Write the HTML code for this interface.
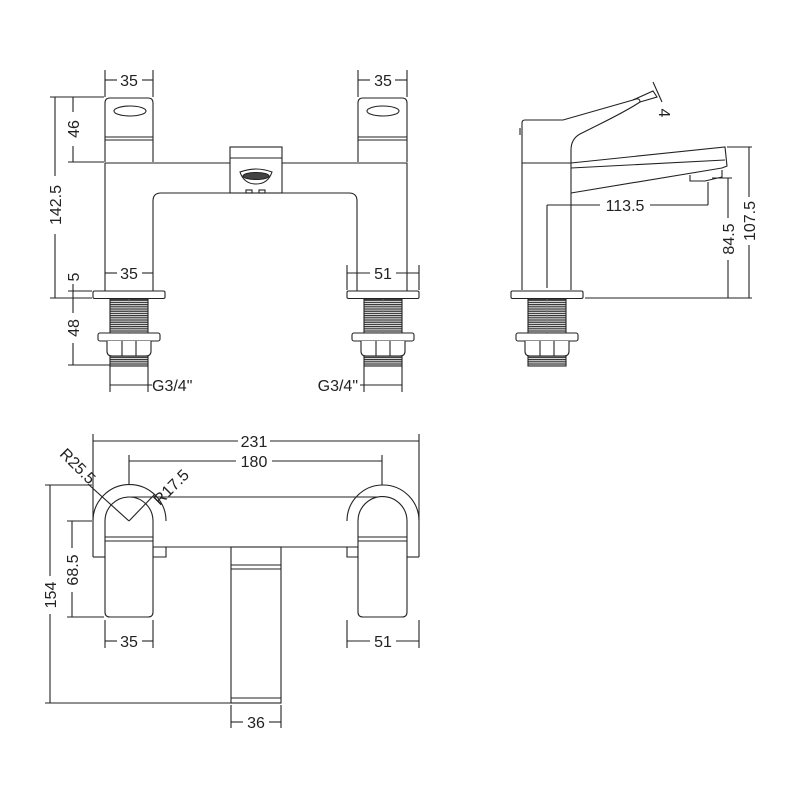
<!DOCTYPE html>
<html><head><meta charset="utf-8"><style>
html,body{margin:0;padding:0;background:#fff;}
svg{display:block;}
text{font-family:"Liberation Sans",sans-serif;font-size:16px;fill:#222;}
</style></head><body>
<svg width="800" height="800" viewBox="0 0 800 800" xmlns="http://www.w3.org/2000/svg">
<defs>
<pattern id="thr" width="4" height="2.2" patternUnits="userSpaceOnUse">
<rect width="4" height="2.2" fill="#fff"/><line x1="0" y1="1" x2="4" y2="1" stroke="#333" stroke-width="1.3"/>
</pattern>
<g id="fit" stroke="#222" stroke-width="1.1" fill="none">
<rect x="-36" y="291" width="72" height="7.5" rx="1.5" fill="#fff"/>
<rect x="-19" y="299" width="38" height="34" fill="url(#thr)"/>
<line x1="0" y1="299" x2="0" y2="333" stroke="#888" stroke-width="0.6"/>
<rect x="-31" y="333" width="62" height="8" rx="2" fill="#fff"/>
<path d="M-22 341 V351 Q-22 356 -17 356 H17 Q22 356 22 351 V341" fill="#fff"/>
<line x1="-7" y1="341" x2="-7" y2="356"/><line x1="7" y1="341" x2="7" y2="356"/>
<rect x="-19" y="356" width="38" height="10" fill="url(#thr)"/>
</g>
</defs>
<g stroke="#222" stroke-width="1.1" fill="none">
<!-- FRONT VIEW -->
<path d="M105 162 V103 Q105 98 110 98 H148 Q153 98 153 103 V162"/>
<ellipse cx="130" cy="111" rx="16" ry="5"/>
<line x1="105" y1="137" x2="153" y2="137"/><line x1="105" y1="140" x2="153" y2="140"/>
<path d="M358 162 V103 Q358 98 363 98 H402 Q407 98 407 103 V162"/>
<ellipse cx="383" cy="111" rx="16" ry="5"/>
<line x1="358" y1="137" x2="407" y2="137"/><line x1="358" y1="140" x2="407" y2="140"/>
<path d="M105 291 V163 H407 V291"/>
<path d="M153 291 V201 Q153 193 161 193 H349 Q357 193 357 201 V291"/>
<rect x="230" y="147" width="52" height="46" fill="#fff"/>
<line x1="230" y1="158" x2="282" y2="158"/>
<path d="M240 172 Q256 166 272 172 Q268 184 256 184 Q244 184 240 172Z"/>
<ellipse cx="256" cy="176" rx="13" ry="3.5" fill="#444"/>
<rect x="246" y="190" width="6" height="3"/><rect x="259" y="190" width="6" height="3"/>
<use href="#fit" x="129"/>
<use href="#fit" x="383"/>
<!-- dims front -->
<line x1="105" y1="70" x2="105" y2="97"/><line x1="153" y1="70" x2="153" y2="97"/>
<line x1="105" y1="80" x2="117" y2="80"/><line x1="142" y1="80" x2="153" y2="80"/>
<line x1="358" y1="70" x2="358" y2="97"/><line x1="407" y1="70" x2="407" y2="97"/>
<line x1="358" y1="80" x2="370" y2="80"/><line x1="395" y1="80" x2="407" y2="80"/>
<line x1="50" y1="97" x2="104" y2="97"/><line x1="68" y1="162" x2="104" y2="162"/>
<line x1="55" y1="97" x2="55" y2="176"/><line x1="55" y1="234" x2="55" y2="298"/>
<line x1="73" y1="97" x2="73" y2="112"/><line x1="73" y1="146" x2="73" y2="162"/>
<line x1="50" y1="298" x2="92" y2="298"/><line x1="68" y1="291" x2="92" y2="291"/>
<line x1="73" y1="284" x2="73" y2="313"/><line x1="73" y1="343" x2="73" y2="365"/>
<line x1="68" y1="365" x2="110" y2="365"/>
<line x1="105" y1="273" x2="117" y2="273"/><line x1="142" y1="273" x2="153" y2="273"/>
<line x1="347" y1="265" x2="347" y2="290"/><line x1="419" y1="265" x2="419" y2="290"/>
<line x1="347" y1="273" x2="370" y2="273"/><line x1="396" y1="273" x2="419" y2="273"/>
<line x1="110" y1="366" x2="110" y2="392"/><line x1="148" y1="366" x2="148" y2="392"/>
<line x1="110" y1="385" x2="152" y2="385"/>
<line x1="364" y1="366" x2="364" y2="392"/><line x1="402" y1="366" x2="402" y2="392"/>
<line x1="360" y1="385" x2="402" y2="385"/>
<!-- SIDE VIEW -->
<path d="M522 290 V163 H571 V290"/>
<path d="M522 163 V123 Q522 120 525 120 H563 L633 100 Q640 97 640 102 Q628 110 600 124 L580 134 Q571 139 571 150 V163"/>
<path d="M633 100 L653 91 L657 97 L640 102"/>
<line x1="653" y1="82" x2="662" y2="102"/>
<line x1="520" y1="128" x2="520" y2="135"/>
<path d="M571 163 L725 147 L727 166 L722 168"/>
<line x1="571" y1="168" x2="725" y2="160"/>
<path d="M571 193 L722 168"/>
<path d="M690 175 L690 181 L705 181 L722 177 L722 170"/>
<line x1="547" y1="205" x2="547" y2="288"/><line x1="708" y1="182" x2="708" y2="205"/>
<line x1="547" y1="205" x2="600" y2="205"/><line x1="650" y1="205" x2="708" y2="205"/>
<line x1="585" y1="298" x2="752" y2="298"/>
<line x1="712" y1="178" x2="732" y2="178"/><line x1="727" y1="147" x2="752" y2="147"/>
<line x1="728" y1="178" x2="728" y2="218"/><line x1="728" y1="260" x2="728" y2="298"/>
<line x1="749" y1="147" x2="749" y2="197"/><line x1="749" y1="245" x2="749" y2="298"/>
<use href="#fit" x="547"/>
<!-- TOP VIEW -->
<path d="M93 557 V521 A36 36 0 0 1 166 521"/>
<line x1="93" y1="557" x2="105" y2="557"/>
<path d="M419 557 V521 A36 36 0 0 0 347 521"/>
<line x1="419" y1="557" x2="407" y2="557"/>
<line x1="129" y1="497" x2="383" y2="497"/>
<line x1="153" y1="547" x2="358" y2="547"/>
<path d="M153 547 V557 H166 V547"/><path d="M358 547 V557 H347 V547"/>
<path d="M105 612 V521 A24 24 0 0 1 153 521 V612 Q153 617 148 617 H110 Q105 617 105 612Z" fill="#fff"/>
<line x1="105" y1="537" x2="153" y2="537"/><line x1="105" y1="541" x2="153" y2="541"/>
<path d="M358 612 V521 A24.5 24.5 0 0 1 407 521 V612 Q407 617 402 617 H363 Q358 617 358 612Z" fill="#fff"/>
<line x1="358" y1="537" x2="407" y2="537"/><line x1="358" y1="541" x2="407" y2="541"/>
<rect x="231" y="547" width="50" height="156"/>
<line x1="231" y1="565" x2="281" y2="565"/><line x1="231" y1="569" x2="281" y2="569"/>
<line x1="231" y1="698" x2="281" y2="698"/>
<!-- R leaders -->
<line x1="88" y1="484" x2="129" y2="521"/><line x1="129" y1="521" x2="155" y2="494"/>
<!-- dims top -->
<line x1="93" y1="434" x2="93" y2="520"/><line x1="419" y1="434" x2="419" y2="520"/>
<line x1="93" y1="441" x2="238" y2="441"/><line x1="270" y1="441" x2="419" y2="441"/>
<line x1="129" y1="455" x2="129" y2="485"/><line x1="382" y1="455" x2="382" y2="485"/>
<line x1="129" y1="461" x2="236" y2="461"/><line x1="272" y1="461" x2="382" y2="461"/>
<line x1="45" y1="485" x2="92" y2="485"/><line x1="45" y1="703" x2="231" y2="703"/>
<line x1="50" y1="485" x2="50" y2="576"/><line x1="50" y1="614" x2="50" y2="703"/>
<line x1="67" y1="521" x2="92" y2="521"/><line x1="67" y1="617" x2="104" y2="617"/>
<line x1="72" y1="521" x2="72" y2="548"/><line x1="72" y1="592" x2="72" y2="617"/>
<line x1="105" y1="620" x2="105" y2="648"/><line x1="153" y1="620" x2="153" y2="648"/>
<line x1="105" y1="641" x2="117" y2="641"/><line x1="142" y1="641" x2="153" y2="641"/>
<line x1="347" y1="620" x2="347" y2="648"/><line x1="419" y1="620" x2="419" y2="648"/>
<line x1="347" y1="641" x2="370" y2="641"/><line x1="396" y1="641" x2="419" y2="641"/>
<line x1="231" y1="705" x2="231" y2="728"/><line x1="281" y1="705" x2="281" y2="728"/>
<line x1="231" y1="722" x2="243" y2="722"/><line x1="269" y1="722" x2="281" y2="722"/>
</g>
<g>
<text x="129" y="86" text-anchor="middle">35</text>
<text x="383" y="86" text-anchor="middle">35</text>
<text x="129" y="279" text-anchor="middle">35</text>
<text x="383" y="279" text-anchor="middle">51</text>
<text transform="translate(61,205) rotate(-90)" text-anchor="middle">142.5</text>
<text transform="translate(79,129) rotate(-90)" text-anchor="middle">46</text>
<text transform="translate(79,277) rotate(-90)" text-anchor="middle">5</text>
<text transform="translate(79,328) rotate(-90)" text-anchor="middle">48</text>
<text x="152" y="391">G3/4"</text>
<text x="358" y="391" text-anchor="end">G3/4"</text>
<text x="625" y="211" text-anchor="middle">113.5</text>
<text transform="translate(734,239) rotate(-90)" text-anchor="middle">84.5</text>
<text transform="translate(755,221) rotate(-90)" text-anchor="middle">107.5</text>
<text transform="translate(659,113) rotate(90)" text-anchor="middle">4</text>
<text x="254" y="447" text-anchor="middle">231</text>
<text x="254" y="467" text-anchor="middle">180</text>
<text transform="translate(56,595) rotate(-90)" text-anchor="middle">154</text>
<text transform="translate(78,570) rotate(-90)" text-anchor="middle">68.5</text>
<text x="129" y="647" text-anchor="middle">35</text>
<text x="383" y="647" text-anchor="middle">51</text>
<text x="256" y="728" text-anchor="middle">36</text>
<text transform="translate(74,470) rotate(45)" text-anchor="middle">R25.5</text>
<text transform="translate(175,491) rotate(-45)" text-anchor="middle">R17.5</text>
</g>
</svg>
</body></html>
